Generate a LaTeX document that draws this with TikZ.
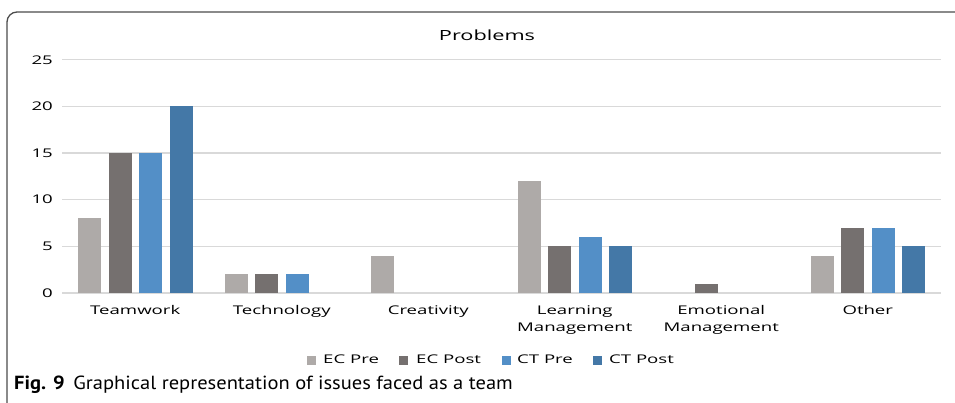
\documentclass[tikz,border=0pt]{standalone}
\usepackage{fontspec}
\usepackage{graphicx}
\usepackage{tikz}
\setmainfont{Open Sans}
\newfontfamily\capfont{PT Sans}
\definecolor{ecpre}{RGB}{174,170,168}
\definecolor{ecpost}{RGB}{117,112,111}
\definecolor{ctpre}{RGB}{83,143,199}
\definecolor{ctpost}{RGB}{68,120,167}
\newcommand{\wide}[1]{\scalebox{1.55}[1]{#1}}
\newcommand{\chartbar}[3]{\fill[#1] (#2,293) rectangle ++(23,{-#3*9.33});}
\tikzstyle{gridline} = [draw=black!15, line width=1.4pt]
\tikzstyle{ticklabel} = [anchor=east, inner sep=0pt, font=\fontsize{12}{14}\selectfont]
\tikzstyle{catlabel} = [anchor=north, inner sep=0pt, align=center, font=\fontsize{12}{17}\selectfont]
\tikzstyle{legendbox} = [minimum width=9pt, minimum height=9pt, inner sep=0pt]
\tikzstyle{legendtext} = [anchor=west, inner sep=0pt, font=\fontsize{12}{14}\selectfont]

\begin{document}
\begin{tikzpicture}[x=1pt, y=-1pt]
	\useasboundingbox (0,0) rectangle (955,402);
	\clip (0,0) rectangle (955,402);
	\draw[black!70, line width=1.3pt, rounded corners=10pt] (7,12) rectangle (990,420);
	% grid and axis
	\foreach \v in {0,5,...,25}{
		\draw[gridline] (62,{293-\v*9.33}) -- (941,{293-\v*9.33});
		\node[ticklabel] (tick\v) at (53,{293-\v*9.33}) {\wide{\v}};
	}
	\node[inner sep=0pt, font=\fontsize{14}{16}\selectfont] (title) at (487,35) {\wide{Problems}};
	% bars
	\chartbar{ecpre}{78}{8} \chartbar{ecpost}{108.5}{15} \chartbar{ctpre}{139}{15} \chartbar{ctpost}{169.5}{20}
	\chartbar{ecpre}{224.5}{2} \chartbar{ecpost}{255}{2} \chartbar{ctpre}{285.5}{2}
	\chartbar{ecpre}{371}{4}
	\chartbar{ecpre}{517.5}{12} \chartbar{ecpost}{548}{5} \chartbar{ctpre}{578.5}{6} \chartbar{ctpost}{609}{5}
	\chartbar{ecpost}{694.5}{1}
	\chartbar{ecpre}{810.5}{4} \chartbar{ecpost}{841}{7} \chartbar{ctpre}{871.5}{7} \chartbar{ctpost}{902}{5}
	% categories
	\node[catlabel] (teamwork) at (135.25,305) {\wide{Teamwork}};
	\node[catlabel] (technology) at (281.75,305) {\wide{Technology}};
	\node[catlabel] (creativity) at (428.25,305) {\wide{Creativity}};
	\node[catlabel] (learning) at (574.75,305) {\wide{Learning}\\\wide{Management}};
	\node[catlabel] (emotional) at (721.25,305) {\wide{Emotional}\\\wide{Management}};
	\node[catlabel] (other) at (867.75,305) {\wide{Other}};
	% legend
	\node[legendbox, fill=ecpre] (keyecpre) at (311,360) {};
	\node[legendtext] (txtecpre) at (323,359) {\wide{EC Pre}};
	\node[legendbox, fill=ecpost] (keyecpost) at (403,360) {};
	\node[legendtext] (txtecpost) at (416,359) {\wide{EC Post}};
	\node[legendbox, fill=ctpre] (keyctpre) at (506,360) {};
	\node[legendtext] (txtctpre) at (517,359) {\wide{CT Pre}};
	\node[legendbox, fill=ctpost] (keyctpost) at (597,360) {};
	\node[legendtext] (txtctpost) at (609,359) {\wide{CT Post}};
	% caption
	\node[anchor=west, inner sep=0pt, font=\capfont\fontsize{19}{22}\selectfont] (caption) at (14,385) {\scalebox{1.08}[1]{\textbf{Fig. 9}\hspace{8pt}Graphical representation of issues faced as a team}};
\end{tikzpicture}
\end{document}
